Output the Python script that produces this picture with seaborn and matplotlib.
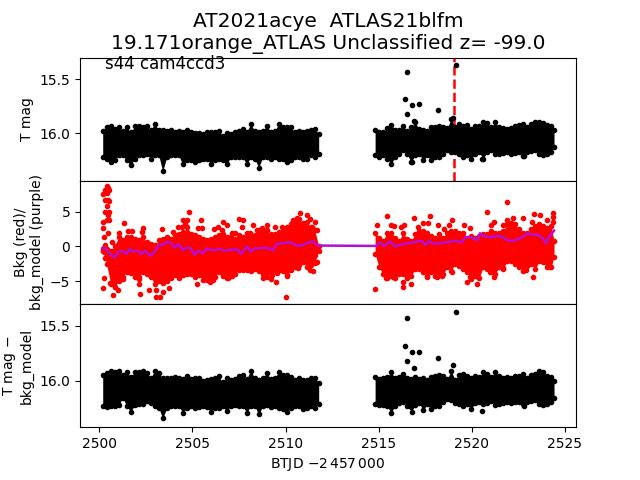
import matplotlib
matplotlib.use("Agg")
import matplotlib.pyplot as plt
import seaborn as sns

# sampled time grid for the two orbits
btjd_a = [2500.18, 2500.39, 2500.61, 2500.82, 2501.04, 2501.25, 2501.47, 2501.68, 2501.90, 2502.11, 2502.33,
          2502.54, 2502.76, 2502.97, 2503.19, 2503.40, 2503.62, 2503.83, 2504.05, 2504.26, 2504.48, 2504.69,
          2504.91, 2505.12, 2505.34, 2505.55, 2505.77, 2505.98, 2506.19, 2506.41, 2506.62, 2506.84, 2507.05,
          2507.27, 2507.48, 2507.70, 2507.91, 2508.13, 2508.34, 2508.56, 2508.77, 2508.99, 2509.20, 2509.42,
          2509.63, 2509.85, 2510.06, 2510.28, 2510.49, 2510.71, 2510.92, 2511.14, 2511.35, 2511.57, 2511.78]
btjd_b = [2514.81, 2515.02, 2515.24, 2515.45, 2515.67, 2515.88, 2516.10, 2516.31, 2516.53, 2516.74, 2516.96,
          2517.17, 2517.39, 2517.60, 2517.82, 2518.03, 2518.25, 2518.46, 2518.68, 2518.89, 2519.11, 2519.32,
          2519.54, 2519.75, 2519.97, 2520.18, 2520.40, 2520.61, 2520.83, 2521.04, 2521.25, 2521.47, 2521.68,
          2521.90, 2522.11, 2522.33, 2522.54, 2522.76, 2522.97, 2523.19, 2523.40, 2523.62, 2523.83, 2524.05,
          2524.26, 2524.42]

# top panel, edges of the dense band
tmag_hi_a = [15.977, 15.946, 15.937, 15.962, 15.946, 15.977, 15.946, 15.992, 15.937, 15.937, 15.946, 15.937,
             15.968, 15.915, 15.968, 15.968, 15.977, 15.968, 15.986, 15.977, 15.992, 15.968, 15.986, 15.998,
             15.998, 16.008, 15.992, 15.992, 15.986, 15.977, 16.023, 15.998, 16.008, 15.992, 15.977, 15.962,
             15.986, 15.915, 15.977, 15.992, 15.977, 15.931, 15.986, 15.977, 15.915, 15.946, 15.946, 15.946,
             15.986, 15.977, 15.986, 15.977, 15.968, 15.962, 16.008]
tmag_lo_a = [16.221, 16.236, 16.267, 16.252, 16.205, 16.205, 16.252, 16.298, 16.236, 16.205, 16.205, 16.190,
             16.236, 16.205, 16.205, 16.350, 16.221, 16.205, 16.205, 16.205, 16.289, 16.252, 16.252, 16.267,
             16.252, 16.236, 16.236, 16.282, 16.252, 16.236, 16.252, 16.289, 16.221, 16.221, 16.221, 16.221,
             16.289, 16.221, 16.236, 16.319, 16.221, 16.221, 16.236, 16.221, 16.236, 16.236, 16.267, 16.252,
             16.221, 16.221, 16.236, 16.236, 16.205, 16.221, 16.190]
tmag_hi_b = [15.968, 15.986, 15.992, 15.955, 15.924, 15.968, 15.968, 15.931, 15.977, 15.946, 15.900, 15.961,
             15.968, 15.977, 15.946, 15.946, 15.937, 15.946, 15.955, 15.869, 15.946, 15.915, 15.937, 15.924,
             15.961, 15.937, 15.937, 15.900, 15.906, 15.946, 15.900, 15.946, 15.955, 15.961, 15.955, 15.931,
             15.924, 15.915, 15.946, 15.915, 15.900, 15.894, 15.906, 15.924, 15.931, 15.968]
tmag_lo_b = [16.205, 16.221, 16.205, 16.236, 16.282, 16.221, 16.190, 16.159, 16.190, 16.267, 16.205, 16.190,
             16.252, 16.205, 16.252, 16.221, 16.221, 16.190, 16.159, 16.174, 16.174, 16.190, 16.221, 16.205,
             16.236, 16.190, 16.174, 16.236, 16.174, 16.159, 16.196, 16.190, 16.184, 16.174, 16.190, 16.184,
             16.174, 16.214, 16.174, 16.165, 16.159, 16.196, 16.205, 16.190, 16.174, 16.128]
tmag_out_x = [2516.54, 2516.43, 2516.81, 2517.19, 2516.54, 2518.21, 2516.92, 2519.17, 2519.01, 2520.57, 2516.81,
              2522.81]
tmag_out_y = [15.434, 15.684, 15.736, 15.727, 15.819, 15.786, 15.884, 15.369, 15.860, 16.236, 16.270, 16.208]

# middle panel, background flux
bkg_hi_a = [-0.41, -0.41, -0.65, 0.07, 1.33, 0.85, 1.33, 1.33, 1.09, 0.95, 1.33, 0.61, 0.37, 0.13, 0.85, 1.09,
            1.33, 1.09, 1.57, 1.81, 2.05, 2.05, 1.81, 1.57, 1.33, 1.09, 0.85, 1.09, 1.33, 1.57, 1.81, 1.33, 1.33,
            1.09, 1.57, 1.33, 1.33, 1.33, 1.57, 2.29, 2.29, 2.29, 1.81, 1.81, 2.05, 2.29, 2.77, 3.25, 3.49, 3.97,
            3.25, 3.49, 2.77, 2.29, 0.07]
bkg_lo_a = [-0.60, -2.52, -5.40, -5.88, -4.92, -4.40, -3.70, -3.80, -4.40, -4.40, -3.70, -3.90, -4.40, -5.40,
            -4.92, -4.60, -4.90, -4.50, -4.10, -4.60, -4.10, -3.90, -3.90, -4.40, -4.10, -4.80, -4.80, -4.60,
            -4.40, -3.70, -4.30, -4.50, -4.30, -3.90, -3.40, -3.40, -3.40, -3.60, -3.20, -3.60, -4.00, -3.80,
            -3.60, -3.40, -3.40, -3.60, -4.30, -3.40, -2.90, -2.60, -2.20, -2.90, -2.60, -2.40, -0.60]
bkg_hi_b = [1.99, 1.27, 0.79, 1.99, 1.99, 1.27, 0.79, 1.99, 1.03, 0.79, 1.75, 2.23, 2.23, 1.99, 1.51, 1.27, 1.75,
            1.27, 1.99, 2.23, 2.23, 1.99, 1.99, 1.27, 1.51, 1.27, 1.51, 1.75, 1.75, 2.23, 1.99, 1.99, 2.23, 3.19,
            3.43, 3.19, 2.47, 1.99, 1.99, 2.47, 2.95, 3.19, 2.95, 2.71, 2.95, 0.79]
bkg_lo_b = [-1.08, -3.00, -4.00, -4.50, -4.20, -4.50, -4.00, -4.00, -4.50, -4.20, -3.30, -3.30, -3.70, -4.20,
            -3.70, -4.20, -4.00, -4.00, -3.00, -3.50, -2.50, -2.80, -3.30, -3.70, -4.70, -4.20, -4.50, -3.00,
            -3.30, -3.70, -4.00, -3.00, -3.30, -2.10, -2.10, -2.50, -3.00, -3.50, -2.80, -2.50, -3.30, -2.10,
            -2.30, -3.00, -3.00, -1.50]
bkg_out_x = [2500.39, 2500.48, 2500.30, 2500.54, 2500.21, 2500.39, 2500.45, 2500.30, 2500.52, 2500.39, 2500.30,
             2500.54, 2500.48, 2500.43, 2500.21, 2500.54, 2500.21, 2500.48, 2500.25, 2500.70, 2500.30, 2500.25,
             2500.30, 2501.34, 2501.05, 2501.52, 2501.73, 2502.36, 2502.27, 2503.38, 2503.97, 2504.24, 2504.83,
             2504.51, 2504.69, 2504.42, 2504.72, 2504.60, 2505.44, 2505.32, 2505.49, 2506.66, 2506.39, 2506.84,
             2506.16, 2506.57, 2507.11, 2507.28, 2507.50, 2507.73, 2507.64, 2508.27, 2507.91, 2508.09, 2508.45,
             2508.72, 2508.99, 2509.43, 2509.79, 2510.42, 2510.78, 2511.13, 2511.31, 2510.60, 2510.33, 2510.95,
             2511.58, 2511.71, 2511.40, 2500.27, 2500.21, 2500.71, 2501.02, 2500.84, 2500.57, 2501.25, 2502.15,
             2502.15, 2502.18, 2502.68, 2503.04, 2503.26, 2503.04, 2503.44, 2503.76, 2503.44, 2505.26, 2505.67,
             2506.12, 2505.94, 2506.93, 2507.11, 2508.81, 2508.99, 2509.25, 2509.22, 2509.47, 2509.52, 2510.06,
             2510.02, 2510.69, 2511.31, 2511.46, 2511.71, 2511.58, 2515.43, 2516.92, 2517.78, 2520.84, 2521.91,
             2514.93, 2515.65, 2515.84, 2516.18, 2516.38, 2518.21, 2518.53, 2518.92, 2518.78, 2519.60, 2519.93,
             2521.21, 2521.02, 2521.66, 2521.88, 2522.23, 2522.77, 2523.36, 2523.68, 2524.38, 2524.38, 2523.22,
             2524.03, 2524.38, 2517.40, 2517.67, 2517.13, 2514.82, 2516.29, 2516.33, 2516.76, 2515.38, 2515.79,
             2516.51, 2517.58, 2518.12, 2518.42, 2518.96, 2519.73, 2520.30, 2519.91, 2520.36, 2521.21, 2520.98,
             2521.70, 2522.90, 2523.31, 2524.20]
bkg_out_y = [8.61, 8.37, 8.13, 8.13, 7.55, 7.65, 6.69, 6.69, 6.45, 5.83, 5.01, 5.01, 4.53, 3.81, 3.57, 3.72, 2.61,
             1.89, 1.32, 0.60, 0.22, -0.74, -1.70, 3.33, 1.89, 2.28, 2.28, 2.61, 2.13, 2.47, 2.04, 2.76, 5.01,
             3.81, 3.81, 2.85, 2.85, 3.24, 3.81, 2.61, 2.61, 3.57, 2.85, 3.09, 2.47, 2.37, 1.89, 1.89, 3.91, 3.81,
             2.85, 3.09, 1.99, 1.99, 2.37, 2.61, 3.09, 2.85, 2.85, 3.81, 4.77, 4.53, 3.91, 4.05, 3.33, 3.33, 3.48,
             2.37, 2.85, -4.58, -6.02, -6.98, -6.26, -5.78, -5.30, -4.72, -4.72, -5.44, -6.88, -6.26, -7.22, -7.31,
             -6.26, -5.30, -6.02, -6.50, -5.44, -4.58, -4.82, -5.06, -4.58, -4.20, -4.48, -4.34, -4.10, -4.72,
             -5.15, -3.86, -4.10, -7.22, -3.14, -3.38, -3.48, -2.18, -1.22, 4.39, 4.05, 4.39, 4.92, 6.35, 3.09,
             3.09, 2.95, 2.85, 3.09, 3.09, 2.52, 3.72, 3.09, 3.09, 2.61, 3.48, 3.09, 3.09, 3.81, 4.05, 4.05, 4.63,
             4.53, 4.77, 4.20, 3.57, 3.72, 3.57, 3.33, 3.33, 2.85, -6.16, -5.88, -5.06, -5.44, -4.58, -4.34, -4.24,
             -4.34, -4.34, -4.20, -3.72, -5.16, -5.44, -4.34, -4.34, -4.44, -3.62, -3.05, -3.38, -4.44, -2.90]
model_x = [2500.18, 2500.39, 2500.61, 2500.82, 2501.04, 2501.25, 2501.47, 2501.61, 2501.82, 2502.04, 2502.25,
           2502.47, 2502.72, 2502.97, 2503.19, 2503.40, 2503.61, 2503.83, 2504.04, 2504.26, 2504.47, 2504.69,
           2504.90, 2505.12, 2505.33, 2505.55, 2505.76, 2505.98, 2506.19, 2506.48, 2506.77, 2507.05, 2507.37,
           2507.62, 2507.91, 2508.13, 2508.34, 2508.63, 2508.99, 2509.31, 2509.52, 2509.88, 2510.24, 2510.60,
           2510.86, 2511.13, 2511.49, 2511.71, 2511.78, 2514.86, 2515.07, 2515.29, 2515.61, 2515.88, 2516.15,
           2516.51, 2516.86, 2517.28, 2517.53, 2517.71, 2517.94, 2518.30, 2518.69, 2519.10, 2519.46, 2519.67,
           2520.00, 2520.30, 2520.44, 2520.71, 2521.07, 2521.43, 2521.70, 2521.97, 2522.32, 2522.68, 2523.04,
           2523.31, 2523.58, 2523.81, 2523.99, 2524.17, 2524.42]
model_y = [-0.17, -0.50, -1.22, -1.56, -0.74, -0.65, -1.08, -0.41, -0.74, -0.60, -1.08, -0.60, -1.37, -0.74, 0.22,
           0.22, 0.60, 0.60, -0.17, 0.31, -0.50, -0.17, -0.26, -1.22, -0.60, -0.98, -0.26, -0.50, -0.50, -0.41,
           -0.65, -0.50, -0.36, -1.08, -0.02, -0.74, -0.26, -0.26, -0.17, -0.60, 0.36, 0.46, 0.60, 0.12, 0.12, 0.46,
           0.70, 0.12, 0.12, 0.07, 0.55, 0.07, 0.70, -0.02, 0.22, 0.46, 0.55, 0.84, 0.22, 0.84, 0.36, 0.46, 0.60,
           0.84, 0.55, 1.32, 1.32, 0.84, 1.89, 1.41, 1.32, 1.51, 1.32, 0.79, 0.84, 1.32, 1.89, 1.65, 1.65, 1.17,
           0.46, 1.41, 2.28]

# bottom panel, T mag minus background model
diff_hi_a = [15.944, 15.929, 15.908, 15.920, 15.914, 15.944, 15.920, 15.965, 15.923, 15.923, 15.908, 15.929,
             15.974, 15.908, 15.929, 15.974, 15.974, 15.974, 15.965, 15.974, 15.983, 15.953, 15.983, 15.974,
             15.974, 16.005, 15.989, 15.983, 15.974, 15.959, 16.014, 15.974, 15.995, 15.983, 15.959, 15.944,
             15.983, 15.908, 15.974, 15.989, 15.974, 15.929, 15.983, 15.974, 15.923, 15.944, 15.944, 15.965,
             15.995, 15.974, 15.995, 15.989, 15.974, 15.974, 16.020]
diff_lo_a = [16.229, 16.238, 16.229, 16.229, 16.220, 16.153, 16.229, 16.280, 16.220, 16.214, 16.214, 16.183,
             16.198, 16.229, 16.244, 16.341, 16.244, 16.229, 16.229, 16.229, 16.289, 16.244, 16.229, 16.244,
             16.238, 16.229, 16.238, 16.280, 16.244, 16.244, 16.229, 16.274, 16.229, 16.220, 16.229, 16.229,
             16.289, 16.229, 16.229, 16.305, 16.229, 16.220, 16.238, 16.229, 16.244, 16.259, 16.280, 16.250,
             16.229, 16.229, 16.259, 16.244, 16.229, 16.244, 16.208]
diff_hi_b = [15.965, 15.983, 15.974, 15.965, 15.923, 15.974, 15.965, 15.935, 15.974, 15.983, 15.965, 15.983,
             15.974, 15.995, 15.965, 15.959, 15.944, 15.953, 15.983, 15.914, 15.989, 15.944, 15.935, 15.953,
             15.974, 15.953, 15.965, 15.923, 15.935, 15.965, 15.923, 15.959, 15.974, 15.965, 15.974, 15.953,
             15.953, 15.935, 15.974, 15.944, 15.935, 15.914, 15.923, 15.953, 15.965, 16.005]
diff_lo_b = [16.208, 16.220, 16.220, 16.229, 16.289, 16.229, 16.198, 16.189, 16.229, 16.238, 16.220, 16.198,
             16.268, 16.214, 16.259, 16.229, 16.229, 16.189, 16.168, 16.177, 16.198, 16.208, 16.229, 16.214,
             16.259, 16.198, 16.189, 16.208, 16.198, 16.183, 16.220, 16.208, 16.198, 16.189, 16.198, 16.189,
             16.189, 16.214, 16.189, 16.183, 16.177, 16.214, 16.220, 16.208, 16.189, 16.159]
diff_out_x = [2516.54, 2519.17, 2516.43, 2516.81, 2517.19, 2516.54, 2518.21, 2516.92, 2519.01, 2520.57, 2516.79,
              2522.81]
diff_out_y = [15.435, 15.380, 15.686, 15.741, 15.735, 15.823, 15.795, 15.886, 15.859, 16.274, 16.286, 16.232]

event_btjd = 2519.07
mag_ticks = [15.5, 16.0]
bkg_ticks = [-5, 0, 5]
year_ticks = [2500, 2505, 2510, 2515, 2520, 2525]


def draw_band(ax, x, hi, lo, color):
    # the points overlap so much that only the edges of the band can be seen
    ax.fill_between(x, lo, hi, color=color, linewidth=0)
    sns.scatterplot(x=x, y=hi, color=color, marker='.', s=36, edgecolor=color, linewidth=1, ax=ax)
    sns.scatterplot(x=x, y=lo, color=color, marker='.', s=36, edgecolor=color, linewidth=1, ax=ax)


def draw_extra(ax, x, y, color):
    sns.scatterplot(x=x, y=y, color=color, marker='.', s=36, edgecolor=color, linewidth=1, ax=ax)


fig, axes = plt.subplots(3, 1, figsize=(6.4, 4.8), sharex=True)
fig.subplots_adjust(hspace=0)
ax_mag, ax_bkg, ax_diff = axes

ax_mag.axvline(event_btjd, color='r', linestyle='--', linewidth=1.8, zorder=0.5)
draw_band(ax_mag, btjd_a, tmag_hi_a, tmag_lo_a, 'k')
draw_band(ax_mag, btjd_b, tmag_hi_b, tmag_lo_b, 'k')
draw_extra(ax_mag, tmag_out_x, tmag_out_y, 'k')
ax_mag.set_ylim(16.44, 15.30)
ax_mag.set_yticks(mag_ticks)
ax_mag.set_yticklabels(['15.5', '16.0'])
ax_mag.set_ylabel('T mag')
ax_mag.text(2500.3, 15.41, 's44 cam4ccd3', fontsize=12)
ax_mag.set_title('AT2021acye  ATLAS21blfm\n19.171orange_ATLAS Unclassified z= -99.0', fontsize=14.5)

draw_band(ax_bkg, btjd_a, bkg_hi_a, bkg_lo_a, 'r')
draw_band(ax_bkg, btjd_b, bkg_hi_b, bkg_lo_b, 'r')
draw_extra(ax_bkg, bkg_out_x, bkg_out_y, 'r')
sns.lineplot(x=model_x, y=model_y, color='#b40fd2', linewidth=1.8, sort=False, errorbar=None, ax=ax_bkg, zorder=3)
ax_bkg.set_ylim(-8.27, 9.42)
ax_bkg.set_yticks(bkg_ticks)
ax_bkg.set_ylabel('Bkg (red)/\nbkg_model (purple)')

draw_band(ax_diff, btjd_a, diff_hi_a, diff_lo_a, 'k')
draw_band(ax_diff, btjd_b, diff_hi_b, diff_lo_b, 'k')
draw_extra(ax_diff, diff_out_x, diff_out_y, 'k')
ax_diff.set_ylim(16.42, 15.305)
ax_diff.set_yticks(mag_ticks)
ax_diff.set_yticklabels(['15.5', '16.0'])
ax_diff.set_ylabel('T mag $-$\nbkg_model')

ax_diff.set_xlim(2498.96, 2525.6)
ax_diff.set_xticks(year_ticks)
ax_diff.set_xlabel(r'BTJD $-2\,457\,000$')
ax_mag.tick_params(axis='x', length=0)
ax_bkg.tick_params(axis='x', length=0)

fig.savefig('out.png', dpi=100)
